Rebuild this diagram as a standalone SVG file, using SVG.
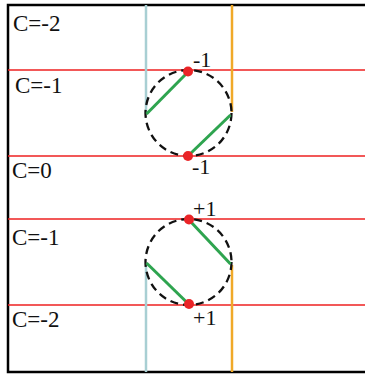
<svg xmlns="http://www.w3.org/2000/svg" width="365" height="377" viewBox="0 0 365 377">
<style>
.red{stroke:#ee2020;stroke-width:1.3;fill:none}
.blue{stroke:#a8cfd3;stroke-width:2.5;fill:none}
.orange{stroke:#f0a928;stroke-width:2.5;fill:none}
.green{stroke:#2ea44f;stroke-width:3;fill:none}
.circ{stroke:#111;stroke-width:2.3;fill:none;stroke-dasharray:8 5}
.dot{fill:#ea2427}
</style>
<rect width="365" height="377" fill="#fff"/>
<polyline points="365,5 8,5 8,372 365,372" fill="none" stroke="#000" stroke-width="2.5"/>
<g id="levels" font-family="'Liberation Serif', 'Times New Roman', serif" font-size="23" fill="#111">
<line class="red" x1="8" y1="70" x2="365" y2="70"/>
<line class="red" x1="8" y1="156" x2="365" y2="156"/>
<line class="red" x1="8" y1="219" x2="365" y2="219"/>
<line class="red" x1="8" y1="305" x2="365" y2="305"/>
<text x="13" y="31">C=-2</text>
<text x="15" y="93">C=-1</text>
<text x="12" y="178">C=0</text>
<text x="12" y="245">C=-1</text>
<text x="12" y="327">C=-2</text>
</g>
<g id="connectors">
<line class="blue" x1="146" y1="5" x2="146" y2="114"/>
<line class="orange" x1="232" y1="5" x2="232" y2="112"/>
<line class="blue" x1="146" y1="263" x2="146" y2="372"/>
<line class="orange" x1="232" y1="265" x2="232" y2="372"/>
</g>
<g id="upper" font-family="'Liberation Serif', 'Times New Roman', serif" font-size="22" fill="#111">
<circle class="circ" cx="188.5" cy="113" r="43"/>
<line class="green" x1="146.5" y1="114" x2="187" y2="73"/>
<line class="green" x1="230.5" y1="115" x2="190" y2="154"/>
<circle class="dot" cx="188" cy="71.5" r="5"/>
<circle class="dot" cx="188" cy="156" r="5"/>
<text x="193" y="67">-1</text>
<text x="192" y="174">-1</text>
</g>
<g id="lower" font-family="'Liberation Serif', 'Times New Roman', serif" font-size="22" fill="#111">
<circle class="circ" cx="188.5" cy="262" r="43"/>
<line class="green" x1="190" y1="221" x2="230.5" y2="264"/>
<line class="green" x1="146.5" y1="263" x2="186.5" y2="302"/>
<circle class="dot" cx="189" cy="219.5" r="5"/>
<circle class="dot" cx="189" cy="304" r="5"/>
<text x="193" y="216">+1</text>
<text x="193" y="325">+1</text>
</g>
</svg>
